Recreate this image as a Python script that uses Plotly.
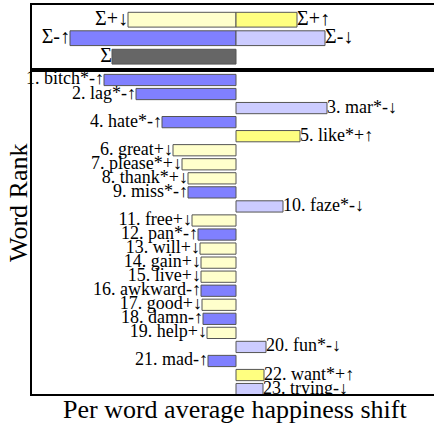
import plotly.graph_objects as go

# ---- data ----
words = ["bitch", "lag", "mar", "hate", "like", "great", "please", "thank", "miss", "faze",
         "free", "pan", "will", "gain", "live", "awkward", "good", "damn", "help", "fun",
         "mad", "want", "trying"]
starred = [1, 1, 1, 1, 1, 0, 1, 1, 1, 1, 0, 1, 0, 0, 0, 0, 0, 0, 0, 1, 0, 1, 0]
kinds = ["-↑", "-↑", "-↓", "-↑", "+↑", "+↓", "+↓", "+↓", "-↑", "-↓",
         "+↓", "-↑", "+↓", "+↓", "+↓", "-↑", "+↓", "-↑", "+↓", "-↓",
         "-↑", "+↑", "-↓"]
shifts = [-1.32, -1.00, 0.91, -0.74, 0.64, -0.63, -0.54, -0.48, -0.48, 0.47,
          -0.44, -0.38, -0.36, -0.35, -0.35, -0.35, -0.34, -0.33, -0.29, 0.30,
          -0.28, 0.28, 0.27]

sum_pos_down = -1.08
sum_pos_up = 0.61
sum_neg_up = -1.66
sum_neg_down = 0.89
sum_total = sum_pos_down + sum_pos_up + sum_neg_up + sum_neg_down

colors = {"+↑": "#ffff80", "+↓": "#ffffcc", "-↑": "#8080ff", "-↓": "#ccccff", "Σ": "#666666"}
EDGE = "#555555"
FONT = "Liberation Serif"
LBL = 18

ranks = list(range(1, len(words) + 1))
labels = [f"{r}. {w}{'*' if s else ''}{k}" for r, w, s, k in zip(ranks, words, starred, kinds)]

fig = go.Figure()

# ---- main panel ----
fig.add_trace(go.Bar(
    x=shifts, y=ranks, orientation="h", width=0.8,
    marker=dict(color=[colors[k] for k in kinds], line=dict(color=EDGE, width=1)),
    xaxis="x", yaxis="y", showlegend=False, hoverinfo="skip"))

Y_BOTTOM = 23.35
Y_TOP = 0.29
for clip in (False, True):
    idx = [i for i, r in enumerate(ranks) if (r + 0.45 > Y_BOTTOM) == clip]
    if not idx:
        continue
    fig.add_trace(go.Scatter(
        x=[shifts[i] for i in idx], y=[ranks[i] for i in idx], mode="text",
        text=[labels[i] for i in idx],
        textposition=["middle left" if shifts[i] < 0 else "middle right" for i in idx],
        textfont=dict(family=FONT, size=LBL, color="black"),
        cliponaxis=clip, xaxis="x", yaxis="y", showlegend=False, hoverinfo="skip"))

# ---- top (summary) panel ----
top_rows = [1, 1, 2, 2, 3]
top_vals = [sum_pos_down, sum_pos_up, sum_neg_up, sum_neg_down, sum_total]
top_kinds = ["+↓", "+↑", "-↑", "-↓", "Σ"]
top_labels = ["Σ+↓", "Σ+↑", "Σ-↑", "Σ-↓", "Σ"]
fig.add_trace(go.Bar(
    x=top_vals, y=top_rows, orientation="h", width=0.8,
    marker=dict(color=[colors[k] for k in top_kinds], line=dict(color=EDGE, width=1)),
    xaxis="x2", yaxis="y2", showlegend=False, hoverinfo="skip"))
fig.add_trace(go.Scatter(
    x=top_vals, y=top_rows, mode="text", text=top_labels,
    textposition=["middle left" if v < 0 else "middle right" for v in top_vals],
    textfont=dict(family=FONT, size=LBL + 2, color="black"),
    cliponaxis=False, xaxis="x2", yaxis="y2", showlegend=False, hoverinfo="skip"))

XR = [-2.04, 1.98]
ax_common = dict(showgrid=False, zeroline=False, ticks="", showticklabels=False,
                 showline=True, linecolor="black", linewidth=1.5)
fig.update_layout(
    width=434, height=424,
    margin=dict(l=32, r=0, t=5, b=30),
    paper_bgcolor="white", plot_bgcolor="white",
    barmode="overlay",
    xaxis=dict(range=XR, anchor="y", mirror=True, **ax_common),
    yaxis=dict(range=[Y_BOTTOM, Y_TOP], domain=[0, 0.8329], anchor="x", mirror=False, **ax_common),
    xaxis2=dict(range=XR, anchor="y2", mirror=True, **ax_common),
    yaxis2=dict(range=[3.72, 0.205], domain=[0.8329, 1], anchor="x2", mirror=False, **ax_common),
    annotations=[
        dict(text="Per word average happiness shift", xref="paper", yref="paper",
             x=0.505, y=0, yshift=-15, xanchor="center", yanchor="middle", showarrow=False,
             font=dict(family=FONT, size=26, color="black")),
        dict(text="Word Rank", xref="paper", yref="paper", textangle=-90,
             x=-0.0348, y=0.491, xanchor="center", yanchor="middle", showarrow=False,
             font=dict(family=FONT, size=26, color="black")),
    ],
)

fig.write_html("out.html", config={"displayModeBar": False},
               post_script="document.body.style.margin='0';document.body.style.overflow='hidden';")
